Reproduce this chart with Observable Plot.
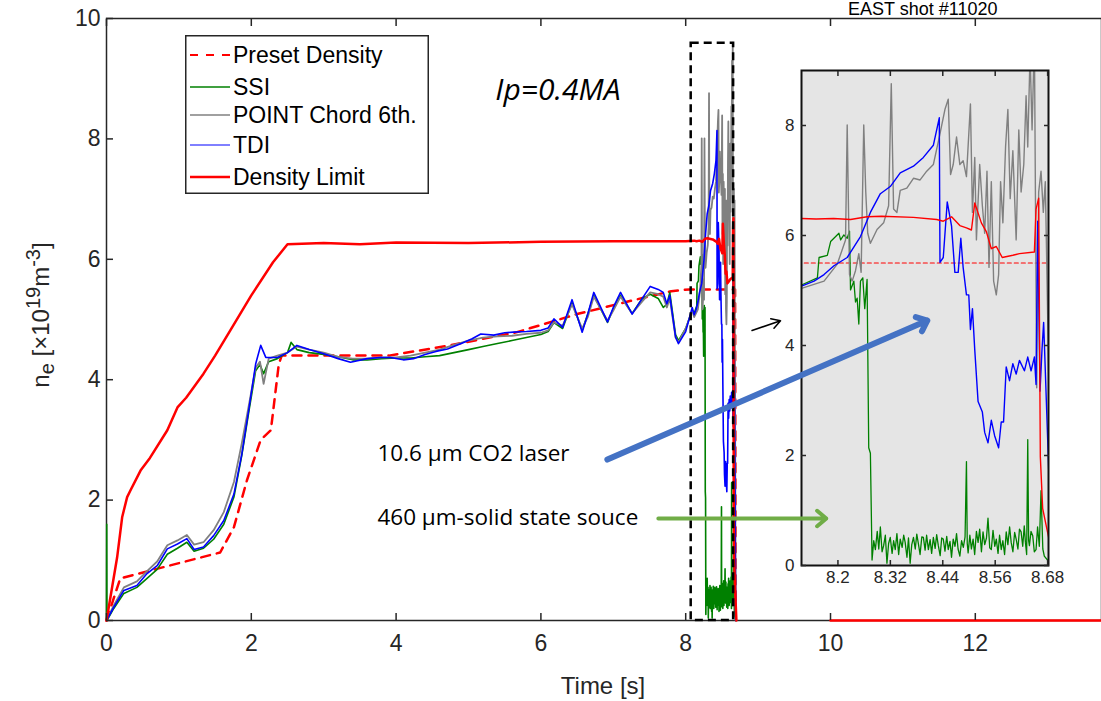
<!DOCTYPE html>
<html><head><meta charset="utf-8">
<script src="https://cdn.jsdelivr.net/npm/d3@7"></script>
<script src="https://cdn.jsdelivr.net/npm/@observablehq/plot@0.6"></script>
<style>
html,body{margin:0;padding:0;background:#fff;}
#wrap{position:relative;width:1101px;height:701px;overflow:hidden;background:#fff;}
#wrap > svg, #wrap > div {position:absolute;}
</style></head><body><div id="wrap"></div>
<script>
// ---------- data (time in s, density in 1e19 m^-3) ----------
const seriesNames = ["Preset Density", "SSI", "POINT Chord 6th.", "TDI", "Density Limit"];
const xTicks = [0, 2, 4, 6, 8, 10, 12];
const yTicks = [0, 2, 4, 6, 8, 10];
const insetXTicks = [8.2, 8.32, 8.44, 8.56, 8.68];
const insetYTicks = [0, 2, 4, 6, 8];

const presetT = [0, 0.19, 1.57, 1.76, 1.94, 2.13, 2.27, 2.38, 2.42, 3.9, 4.7, 5.67, 6.5, 7.24, 7.8, 8.05, 8.1166, 8.682, 8.69];
const presetN = [0, 0.7, 1.13, 1.55, 2.33, 3.0, 3.16, 4.26, 4.4, 4.4, 4.56, 4.79, 5.09, 5.31, 5.47, 5.5, 5.5, 5.5, 0];

const limitEarlyT = [0, 0.055, 0.147, 0.217, 0.285, 0.33, 0.47, 0.6, 0.84, 0.98, 1.1, 1.34, 1.5, 1.71, 2.0, 2.3, 2.5, 3.0, 3.5, 4.0, 5.0, 6.0, 7.0, 8.0];
const limitEarlyN = [0, 0.39, 1.05, 1.72, 2.05, 2.16, 2.49, 2.7, 3.16, 3.54, 3.7, 4.1, 4.4, 4.82, 5.4, 5.95, 6.25, 6.27, 6.25, 6.28, 6.27, 6.29, 6.3, 6.3];
const limitZoomT = [8.1166, 8.15, 8.19, 8.2288, 8.2667, 8.30, 8.3729, 8.426, 8.4411, 8.4601, 8.4791, 8.4942, 8.5056, 8.5132, 8.5283, 8.5397, 8.5511, 8.5625, 8.5761, 8.6004, 8.6155, 8.6497, 8.6535, 8.6595, 8.6633, 8.6686, 8.6823];
const limitZoomN = [6.31, 6.30, 6.31, 6.29, 6.34, 6.35, 6.33, 6.29, 6.26, 6.34, 6.18, 6.14, 6.10, 6.59, 6.23, 6.07, 5.76, 5.80, 5.60, 5.64, 5.67, 5.70, 6.48, 6.68, 1.98, 1.04, 0.51];
const limitTailT = [8.70, 8.8, 10.0, 13.743];
const limitTailN = [0, null, 0, 0];

const ssiEarlyT = [0, 0.003, 0.006, 0.1, 0.24, 0.42, 0.56, 0.7, 0.84, 0.98, 1.11, 1.21, 1.34, 1.48, 1.62, 1.76, 1.87, 1.97, 2.06, 2.12, 2.17, 2.24, 2.36, 2.5, 2.55, 2.63, 2.8, 3.0, 3.2, 3.4, 3.6, 3.8, 4.0, 4.2, 4.4, 4.6, 4.8, 5.0, 5.2, 5.4, 5.6, 5.8, 6.0, 6.1, 6.18, 6.3, 6.43, 6.57, 6.65, 6.73, 6.92, 7.0, 7.1, 7.26, 7.4, 7.51, 7.62, 7.69, 7.74, 7.78, 7.86, 7.9, 8.0, 8.09];
const ssiEarlyN = [0, 1.6, 0, 0.2, 0.45, 0.55, 0.7, 0.85, 1.1, 1.2, 1.3, 1.15, 1.2, 1.35, 1.6, 2.05, 2.75, 3.5, 4.15, 4.25, 4.1, 4.3, 4.35, 4.45, 4.62, 4.5, 4.45, 4.42, 4.38, 4.33, 4.33, 4.35, 4.36, 4.36, 4.38, 4.4, 4.45, 4.5, 4.55, 4.6, 4.65, 4.7, 4.75, 4.8, 4.95, 4.85, 5.28, 4.82, 5.1, 5.4, 4.95, 5.18, 5.4, 5.1, 5.35, 5.42, 5.35, 5.2, 5.25, 5.45, 4.75, 4.65, 4.85, 5.15];
const ssiZoomT = [8.1166, 8.1530, 8.1568, 8.1757, 8.1833, 8.2023, 8.2061, 8.2136, 8.2212, 8.2265, 8.2288, 8.2364, 8.2402, 8.2440, 8.2478, 8.2516, 8.2569, 8.2614, 8.2667, 8.2705, 8.2743,
  8.2781, 8.2820, 8.2857, 8.2900, 8.2935, 8.2971, 8.3010, 8.3046, 8.3085, 8.3122, 8.3160, 8.3198, 8.3240, 8.3275, 8.3312, 8.3350, 8.3390, 8.3426, 8.3470, 8.3505, 8.3539, 8.3580, 8.3615, 8.3653, 8.3690, 8.3729, 8.3770, 8.3805, 8.3843, 8.3880, 8.3920, 8.3956, 8.3995, 8.4030, 8.4070, 8.4110, 8.4145, 8.4184, 8.4225, 8.4260, 8.4298, 8.4340, 8.4375, 8.4411, 8.4450, 8.4490, 8.4525, 8.4565, 8.4600, 8.4639, 8.4680, 8.4715, 8.4750, 8.4791, 8.4830, 8.4870, 8.4910, 8.4942, 8.4960, 8.4980, 8.5020, 8.5055, 8.5094, 8.5130, 8.5170, 8.5208, 8.5245, 8.5285, 8.5321, 8.5360, 8.5400, 8.5435, 8.5475, 8.5511, 8.5550, 8.5590, 8.5625, 8.5665, 8.5700, 8.5738, 8.5775, 8.5815, 8.5852, 8.5890, 8.5930, 8.5966, 8.6005, 8.6045, 8.6080, 8.6120, 8.6155, 8.6193, 8.6230, 8.6265, 8.6292, 8.6320, 8.6345, 8.6365, 8.6383, 8.6420, 8.6459, 8.6495, 8.6535, 8.6570, 8.6610, 8.6649, 8.6690, 8.6724];
const ssiZoomN = [5.10, 5.23, 5.60, 5.64, 5.89, 6.04, 5.92, 6.01, 5.95, 6.08, 5.01, 5.17, 4.79, 4.86, 4.39, 5.17, 5.23, 4.67, 5.20, 2.14, 2.04,
  0.10, 0.45, 0.29, 0.62, 0.30, 0.70, 0.25, 0.36, 0.55, 0.04, 0.40, 0.51, 0.22, 0.45, 0.29, 0.58, 0.20, 0.48, 0.33, 0.55, 0.42, 0.15, 0.50, 0.04, 0.38, 0.51, 0.30, 0.57, 0.39, 0.20, 0.52, 0.51, 0.28, 0.55, 0.29, 0.47, 0.22, 0.51, 0.31, 0.56, 0.36, 0.18, 0.50, 0.48, 0.26, 0.53, 0.29, 0.44, 0.15, 0.48, 0.35, 0.58, 0.30, 0.17, 0.45, 0.33, 0.52, 1.89, 0.40, 0.23, 0.55, 0.30, 0.48, 0.20, 0.62, 0.42, 0.66, 0.25, 0.61, 0.38, 0.50, 0.86, 0.32, 0.29, 0.64, 0.35, 0.48, 0.22, 0.55, 0.29, 0.45, 0.20, 0.61, 0.38, 0.70, 0.42, 0.25, 0.60, 0.48, 0.30, 0.66, 0.61, 0.35, 0.72, 0.42, 0.20, 2.29, 0.45, 0.36, 0.62, 0.54, 0.25, 0.29, 0.70, 0.35, 1.36, 0.30, 0.17];
const ssiTailT = [8.69];
const ssiTailN = [0];

const pointEarlyT = [0, 0.1, 0.24, 0.42, 0.56, 0.7, 0.84, 0.98, 1.11, 1.21, 1.34, 1.48, 1.62, 1.76, 1.87, 1.97, 2.06, 2.12, 2.17, 2.24, 2.36, 2.5, 2.63, 2.8, 3.0, 3.2, 3.4, 3.6, 3.8, 4.0, 4.2, 4.4, 4.6, 4.8, 5.0, 5.2, 5.4, 5.6, 5.8, 6.0, 6.1, 6.18, 6.3, 6.43, 6.57, 6.65, 6.73, 6.92, 7.0, 7.1, 7.26, 7.4, 7.51, 7.62, 7.69, 7.74, 7.78, 7.86, 7.9, 8.0, 8.09];
const pointEarlyN = [0, 0.25, 0.55, 0.65, 0.82, 0.98, 1.25, 1.33, 1.42, 1.26, 1.3, 1.5, 1.8, 2.3, 2.95, 3.6, 4.2, 4.3, 3.93, 4.35, 4.4, 4.45, 4.55, 4.5, 4.45, 4.38, 4.35, 4.35, 4.37, 4.37, 4.4, 4.45, 4.5, 4.58, 4.65, 4.7, 4.72, 4.73, 4.76, 4.78, 4.82, 4.95, 4.9, 5.25, 4.85, 5.05, 5.38, 4.98, 5.15, 5.38, 5.1, 5.3, 5.45, 5.42, 5.38, 5.2, 5.35, 4.7, 4.62, 4.85, 5.15];
const pointZoomT = [8.1166, 8.1682, 8.1985, 8.2174, 8.2212, 8.2265, 8.2326, 8.2402, 8.2478, 8.2531, 8.2591, 8.2637, 8.2682, 8.2743, 8.2895, 8.3046, 8.3160, 8.3221, 8.3274, 8.3350, 8.3426, 8.3577, 8.3729, 8.3881, 8.4032, 8.4184, 8.4320, 8.4449, 8.4525, 8.4578, 8.4639, 8.4715, 8.4791, 8.4866, 8.4942, 8.5033, 8.5079, 8.5132, 8.5170, 8.5245, 8.5306, 8.5359, 8.5412, 8.5458, 8.5511, 8.5564, 8.5625, 8.5678, 8.5723, 8.5776, 8.5837, 8.5890, 8.5943, 8.6004, 8.6080, 8.6140, 8.6193, 8.6254, 8.6307, 8.6345, 8.6398, 8.6444, 8.6497, 8.6550, 8.6595, 8.6649, 8.6701, 8.6747];
const pointZoomN = [5.04, 5.17, 5.48, 5.92, 8.01, 5.29, 5.17, 5.36, 5.67, 5.33, 8.01, 6.79, 6.04, 5.86, 6.11, 6.23, 6.54, 8.76, 6.48, 6.42, 6.82, 6.86, 7.04, 7.01, 7.17, 7.29, 7.79, 8.29, 8.48, 7.11, 7.29, 7.79, 7.29, 7.36, 7.07, 8.39, 6.42, 7.42, 5.92, 7.29, 6.54, 6.04, 7.17, 5.42, 6.98, 5.17, 4.92, 5.29, 6.98, 6.23, 7.61, 8.29, 6.67, 7.54, 5.92, 7.92, 6.79, 7.29, 8.54, 7.61, 9.3, 7.92, 9.6, 3.23, 6.79, 7.17, 6.42, 6.98];
const pointTailT = [8.69];
const pointTailN = [0];

const tdiEarlyT = [0, 0.1, 0.24, 0.42, 0.56, 0.7, 0.84, 0.98, 1.11, 1.21, 1.34, 1.48, 1.62, 1.76, 1.87, 1.97, 2.06, 2.13, 2.2, 2.36, 2.5, 2.63, 2.8, 3.0, 3.2, 3.37, 3.6, 3.78, 3.92, 4.1, 4.24, 4.4, 4.55, 4.71, 4.9, 5.05, 5.17, 5.35, 5.5, 5.62, 5.8, 6.0, 6.1, 6.18, 6.3, 6.43, 6.57, 6.65, 6.73, 6.92, 7.0, 7.1, 7.26, 7.4, 7.51, 7.62, 7.69, 7.74, 7.78, 7.86, 7.9, 8.0, 8.09];
const tdiEarlyN = [0, 0.22, 0.5, 0.58, 0.78, 0.91, 1.19, 1.27, 1.36, 1.18, 1.22, 1.41, 1.66, 2.1, 2.77, 3.54, 4.26, 4.57, 4.37, 4.37, 4.45, 4.57, 4.5, 4.43, 4.35, 4.29, 4.35, 4.37, 4.37, 4.33, 4.35, 4.42, 4.47, 4.51, 4.6, 4.68, 4.76, 4.74, 4.78, 4.79, 4.8, 4.82, 4.86, 5.01, 4.87, 5.33, 4.79, 5.1, 5.45, 4.96, 5.2, 5.45, 5.09, 5.35, 5.55, 5.5, 5.45, 5.26, 5.4, 4.71, 4.6, 4.8, 5.2];
const tdiZoomT = [8.1166, 8.1454, 8.1682, 8.1909, 8.2212, 8.2516, 8.2743, 8.2971, 8.3198, 8.3426, 8.3729, 8.3956, 8.4184, 8.4320, 8.4336, 8.4411, 8.4502, 8.4601, 8.4677, 8.4753, 8.4813, 8.4866, 8.4942, 8.4995, 8.5033, 8.5079, 8.5132, 8.5208, 8.5306, 8.5359, 8.5435, 8.5511, 8.5587, 8.5678, 8.5738, 8.5791, 8.5852, 8.5928, 8.6004, 8.6080, 8.6155, 8.6269, 8.6345, 8.6421, 8.6497, 8.6535, 8.6573, 8.6626, 8.6671, 8.6709];
const tdiZoomN = [5.08, 5.17, 5.29, 5.45, 5.60, 5.98, 6.42, 6.76, 6.89, 7.14, 7.26, 7.42, 7.64, 8.14, 5.51, 5.6, 6.61, 6.17, 5.33, 5.33, 5.95, 5.42, 4.92, 4.92, 4.29, 4.67, 3.92, 2.98, 2.79, 2.42, 2.23, 2.64, 2.36, 2.14, 2.61, 2.61, 3.61, 3.36, 3.67, 3.48, 3.73, 3.54, 3.79, 3.54, 3.79, 3.29, 6.26, 3.17, 3.92, 4.42];
const tdiTailT = [8.69];
const tdiTailN = [0];

// annotations (in data coordinates of the main chart)
const zoomBox = [{x1: 8.076, x2: 8.662, y1: 0, y2: 9.59}];
const co2Arrow = [{x1: 6.918, y1: 2.674, x2: 11.337, y2: 4.983}];
const thzArrow = [{x1: 7.622, y1: 1.694, x2: 9.942, y2: 1.694}];
const smallArrow = [{x1: 8.916, y1: 4.817, x2: 9.31, y2: 4.98}];
const labels = [
  {x: 3.742, y: 2.774, text: "10.6 μm CO2 laser"},
  {x: 3.742, y: 1.711, text: "460 μm-solid state souce"}
];
const ipLabel = [{x: 5.371, y: 8.804, text: "Ip=0.4MA"}];
const shotTitle = "EAST shot #11020";

// ---------- build ----------
const rows = (T, N) => T.map((t, i) => ({t, n: N[i]}));
const preset = rows(presetT, presetN);
const limit = rows([...limitEarlyT, ...limitZoomT, ...limitTailT], [...limitEarlyN, ...limitZoomN, ...limitTailN]);
const ssi = rows([...ssiEarlyT, ...ssiZoomT, ...ssiTailT], [...ssiEarlyN, ...ssiZoomN, ...ssiTailN]);
const point = rows([...pointEarlyT, ...pointZoomT, ...pointTailT], [...pointEarlyN, ...pointZoomN, ...pointTailN]);
const tdi = rows([...tdiEarlyT, ...tdiZoomT, ...tdiTailT], [...tdiEarlyN, ...tdiZoomN, ...tdiTailN]);

const C = {preset: "#ff0000", ssi: "#008000", point: "#808080", tdi: "#0000ff", limit: "#ff0000"};
const FONT = "'Liberation Sans', Arial, Helvetica, sans-serif";
const AFONT = "'Open Sans', Calibri, sans-serif";
const AX = "#262626";
const W = 1101, H = 701;
const dims = {width: W, height: H, marginLeft: 106, marginRight: 0, marginTop: 18, marginBottom: 81};
const xDom = [0, 13.743], yDom = [0, 10];
const wrap = document.getElementById("wrap");

const main = Plot.plot({
  ...dims,
  x: {domain: xDom}, y: {domain: yDom},
  style: {background: "transparent", fontFamily: FONT, color: AX, overflow: "visible"},
  marks: [
    Plot.frame({stroke: AX, strokeWidth: 1.5}),
    Plot.line(preset, {x: "t", y: "n", stroke: C.preset, strokeWidth: 2.5, strokeDasharray: "9,7"}),
    Plot.line(ssi, {x: "t", y: "n", stroke: C.ssi, strokeWidth: 1.6}),
    Plot.line(point, {x: "t", y: "n", stroke: C.point, strokeWidth: 1.8}),
    Plot.line(tdi, {x: "t", y: "n", stroke: C.tdi, strokeWidth: 1.6}),
    Plot.line(limit, {x: "t", y: "n", stroke: C.limit, strokeWidth: 2.5}),
    Plot.axisX(xTicks, {anchor: "bottom", tickSize: -7, tickPadding: 21, fontSize: 23, strokeWidth: 1.5, label: null, tickFormat: d => String(d)}),
    Plot.axisX(xTicks, {anchor: "top", tickSize: -7, strokeWidth: 1.5, label: null, tickFormat: () => ""}),
    Plot.axisY(yTicks, {anchor: "left", tickSize: -7, tickPadding: 13, fontSize: 23, strokeWidth: 1.5, label: null, tickFormat: d => String(d)}),
  ]
});
main.style.left = "0px"; main.style.top = "0px";
wrap.appendChild(main);

const inset = Plot.plot({
  width: 300, height: 540, marginLeft: 41, marginRight: 12, marginTop: 15, marginBottom: 30,
  x: {domain: [8.1166, 8.682]}, y: {domain: [0, 9]},
  style: {background: "transparent", fontFamily: FONT, color: AX, overflow: "visible"},
  marks: [
    Plot.frame({fill: "#e5e5e5"}),
    Plot.line(preset, {x: "t", y: "n", stroke: C.preset, strokeWidth: 1.2, strokeDasharray: "4,3", clip: true}),
    Plot.line(ssi, {x: "t", y: "n", stroke: C.ssi, strokeWidth: 1.3, clip: true}),
    Plot.line(point, {x: "t", y: "n", stroke: C.point, strokeWidth: 1.4, clip: true}),
    Plot.line(tdi, {x: "t", y: "n", stroke: C.tdi, strokeWidth: 1.4, clip: true}),
    Plot.line(limit, {x: "t", y: "n", stroke: C.limit, strokeWidth: 1.4, clip: true}),
    Plot.frame({stroke: "#111", strokeWidth: 2}),
    Plot.axisX(insetXTicks, {anchor: "bottom", tickSize: -5, tickPadding: 10, fontSize: 17, strokeWidth: 1.5, label: null, tickFormat: d => String(d)}),
    Plot.axisX(insetXTicks, {anchor: "top", tickSize: -5, strokeWidth: 1.5, label: null, tickFormat: () => ""}),
    Plot.axisY(insetYTicks, {anchor: "left", tickSize: -5, tickPadding: 12, fontSize: 17, strokeWidth: 1.5, label: null, tickFormat: d => String(d)}),
    Plot.axisY(insetYTicks, {anchor: "right", tickSize: -5, strokeWidth: 1.5, label: null, tickFormat: () => ""}),
  ]
});
inset.style.left = "760px"; inset.style.top = "55px";
wrap.appendChild(inset);

const overlay = Plot.plot({
  ...dims,
  x: {domain: xDom, axis: null}, y: {domain: yDom, axis: null},
  style: {background: "transparent", overflow: "visible"},
  marks: [
    Plot.rect(zoomBox, {x1: "x1", x2: "x2", y1: "y1", y2: "y2", fill: "none", stroke: "#000", strokeWidth: 2.5, strokeDasharray: "8,5"}),
    Plot.arrow(co2Arrow, {x1: "x1", y1: "y1", x2: "x2", y2: "y2", stroke: "#4472c4", strokeWidth: 6, headLength: 3, headAngle: 80}),
    Plot.arrow(thzArrow, {x1: "x1", y1: "y1", x2: "x2", y2: "y2", stroke: "#70ad47", strokeWidth: 4, headLength: 4.5, headAngle: 80}),
    Plot.arrow(smallArrow, {x1: "x1", y1: "y1", x2: "x2", y2: "y2", stroke: "#000", strokeWidth: 1.5, headLength: 10, headAngle: 60}),
    Plot.text(labels, {x: "x", y: "y", text: "text", textAnchor: "start", fontSize: 22.5, fontFamily: AFONT, fill: "#000"}),
    Plot.text(ipLabel, {x: "x", y: "y", text: "text", textAnchor: "start", fontSize: 30, fontStyle: "italic", fontFamily: AFONT, fill: "#000"}),
  ]
});
overlay.style.left = "0px"; overlay.style.top = "0px";
wrap.appendChild(overlay);

// legend
const legendItems = [
  {name: seriesNames[0], color: C.preset, w: 2, dash: "8,8"},
  {name: seriesNames[1], color: C.ssi, w: 1.3, dash: null},
  {name: seriesNames[2], color: C.point, w: 1.5, dash: null},
  {name: seriesNames[3], color: C.tdi, w: 1, dash: null},
  {name: seriesNames[4], color: C.limit, w: 2.5, dash: null},
];
const leg = d3.create("svg").attr("width", 245).attr("height", 160)
  .style("left", "185px").style("top", "35px").style("position", "absolute");
leg.append("rect").attr("x", 0.75).attr("y", 0.75).attr("width", 242.5).attr("height", 157.5)
  .attr("fill", "#fff").attr("stroke", AX).attr("stroke-width", 1.5);
const rowY = [20, 52, 80, 110, 142];
legendItems.forEach((it, i) => {
  leg.append("line").attr("x1", 5).attr("x2", 45).attr("y1", rowY[i]).attr("y2", rowY[i])
    .attr("stroke", it.color).attr("stroke-width", it.w).attr("stroke-dasharray", it.dash);
  leg.append("text").attr("x", 48).attr("y", rowY[i]).attr("dy", "0.35em")
    .attr("font-family", FONT).attr("font-size", 23).attr("fill", "#000").text(it.name);
});
wrap.appendChild(leg.node());

// title and axis labels
const title = document.createElement("div");
title.textContent = shotTitle;
Object.assign(title.style, {left: "848px", top: "0px", font: "18px " + FONT, lineHeight: "18px", whiteSpace: "nowrap", color: "#000"});
wrap.appendChild(title);

const xlab = document.createElement("div");
xlab.textContent = "Time [s]";
Object.assign(xlab.style, {left: "603px", top: "686px", transform: "translate(-50%,-50%)", font: "24px " + FONT, whiteSpace: "nowrap", color: AX});
wrap.appendChild(xlab);

const ylab = document.createElement("div");
ylab.innerHTML = "n<sub>e</sub> [×10<sup>19</sup>m<sup>-3</sup>]";
Object.assign(ylab.style, {left: "40px", top: "315px", transform: "translate(-50%,-50%) rotate(-90deg)", font: "24px " + FONT, whiteSpace: "nowrap", color: AX, lineHeight: "24px"});
wrap.appendChild(ylab);
</script></body></html>
